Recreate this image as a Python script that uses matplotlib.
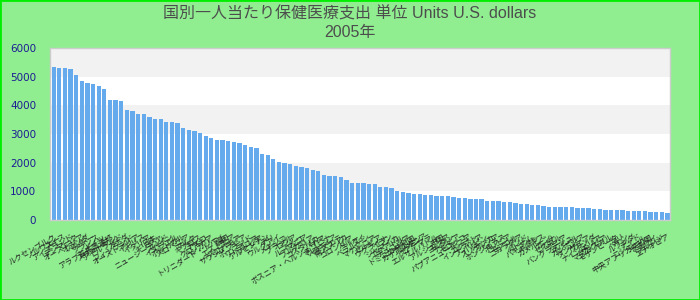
import matplotlib
matplotlib.use('Agg')
import matplotlib.pyplot as plt
from matplotlib.patches import Rectangle

title_line1 = '国別一人当たり保健医療支出 単位 Units U.S. dollars'
title_line2 = '2005年'

countries = [
    'ルクセンブルク', 'ノルウェー', 'スイス', 'アイスランド', 'デンマーク',
    'オーストリア', 'オランダ', 'ベルギー', 'フランス', 'ドイツ',
    'アラブ首長国連邦', 'スウェーデン', 'アイルランド', 'カナダ', 'フィンランド',
    'オーストラリア', 'イギリス', 'イタリア', '日本', 'ギリシャ',
    'ニュージーランド', 'スペイン', 'イスラエル', 'ポルトガル', 'スロベニア',
    'マルタ', 'キプロス', 'チェコ', 'クロアチア', 'ハンガリー',
    'トリニダード・トバゴ', '韓国', 'エストニア', 'スロバキア', 'サウジアラビア',
    'ポーランド', 'リトアニア', 'ラトビア', 'アルゼンチン', 'チリ',
    'ウルグアイ', 'メキシコ', 'ブラジル', 'ロシア', 'トルコ',
    'ルーマニア', 'ブルガリア', 'コスタリカ', 'パナマ', 'ボスニア・ヘルツェゴビナ',
    'マレーシア', 'ベネズエラ', '南アフリカ', 'コロンビア', 'ペルー',
    'タイ', 'ベラルーシ', 'マケドニア', 'セルビア', 'ウクライナ',
    'イラン', 'ジャマイカ', 'エクアドル', 'チュニジア', 'ドミニカ共和国',
    'カザフスタン', 'アルメニア', 'グアテマラ', 'エルサルバドル', '中国',
    'アルジェリア', 'ヨルダン', 'ナミビア', 'モロッコ', 'パプアニューギニア',
    'エジプト', 'インドネシア', 'フィリピン', 'スリランカ', 'グルジア',
    'ホンジュラス', 'ボリビア', 'モンゴル', 'ニカラグア', 'インド',
    'ベトナム', 'パキスタン', 'キルギス', 'カメルーン', 'ガーナ',
    'セネガル', 'ケニア', 'バングラデシュ', 'ネパール', 'カンボジア',
    'タンザニア', 'ウガンダ', 'ナイジェリア', 'ザンビア', 'マダガスカル',
    'モザンビーク', 'マリ', 'ベナン', 'ルワンダ', 'チャド',
    'ニジェール', '中央アフリカ共和国', 'マラウイ', 'ブルンジ', 'エチオピア',
]

values = [
    5347, 5312, 5312, 5278, 5068, 4858, 4788, 4753, 4683, 4579,
    4194, 4194, 4159, 3845, 3810, 3705, 3705, 3600, 3530, 3530,
    3425, 3425, 3390, 3216, 3146, 3111, 3041, 2936, 2866, 2796,
    2796, 2761, 2724, 2689, 2617, 2547, 2512, 2303, 2268, 2128,
    2024, 1989, 1954, 1884, 1849, 1814, 1745, 1710, 1570, 1535,
    1535, 1500, 1396, 1291, 1291, 1291, 1256, 1256, 1151, 1151,
    1116, 1012, 977, 942, 907, 907, 872, 872, 837, 837,
    837, 802, 768, 768, 733, 733, 733, 663, 663, 663,
    628, 628, 593, 558, 558, 523, 523, 488, 454, 454,
    454, 454, 454, 419, 419, 419, 384, 384, 349, 349,
    349, 349, 314, 314, 314, 314, 279, 279, 279, 244,
]

yticks = [0, 1000, 2000, 3000, 4000, 5000, 6000]

fonts = ['Liberation Sans', 'Noto Sans CJK JP', 'DejaVu Sans']

fig = plt.figure(figsize=(7, 3), dpi=100, facecolor='#90ee90')
ax = fig.add_axes([50/700, 80/300, 620/700, 172/300])
ax.set_facecolor('white')

# alternating horizontal bands
for i in range(len(yticks) - 1):
    if i % 2 == 1:
        ax.axhspan(yticks[i], yticks[i+1], color='#f2f2f2', zorder=0, lw=0)

x = list(range(len(values)))
ax.bar(x, values, width=0.76, color='#66aaee', zorder=2)

ax.set_xlim(-0.65, len(values) - 0.55)
ax.set_ylim(0, 6000)
ax.set_yticks(yticks)
ax.set_yticklabels([str(v) for v in yticks], fontsize=7.5, color='#1c1c94',
                   family='DejaVu Sans')
ax.set_xticks(x)
ax.set_xticklabels(countries, rotation=30, ha='right', va='top',
                   rotation_mode='anchor', fontsize=5.5, color='#222222',
                   family=fonts)
ax.tick_params(axis='y', length=0, pad=10)
ax.tick_params(axis='x', length=0, pad=10)

for s in ax.spines.values():
    s.set_color('#cccccc')
    s.set_linewidth(1)

fig.text(0.5, 1 - 23.5/300, title_line1 + '\n' + title_line2, ha='center',
         va='center', fontsize=11.5, color='#4d4d4d', linespacing=1.28,
         family=fonts)

fig.patches.append(Rectangle((0, 0), 1, 1, transform=fig.transFigure,
                             fill=False, edgecolor='#00ee00', linewidth=2))

fig.savefig('out.png', dpi=100, facecolor=fig.get_facecolor())
